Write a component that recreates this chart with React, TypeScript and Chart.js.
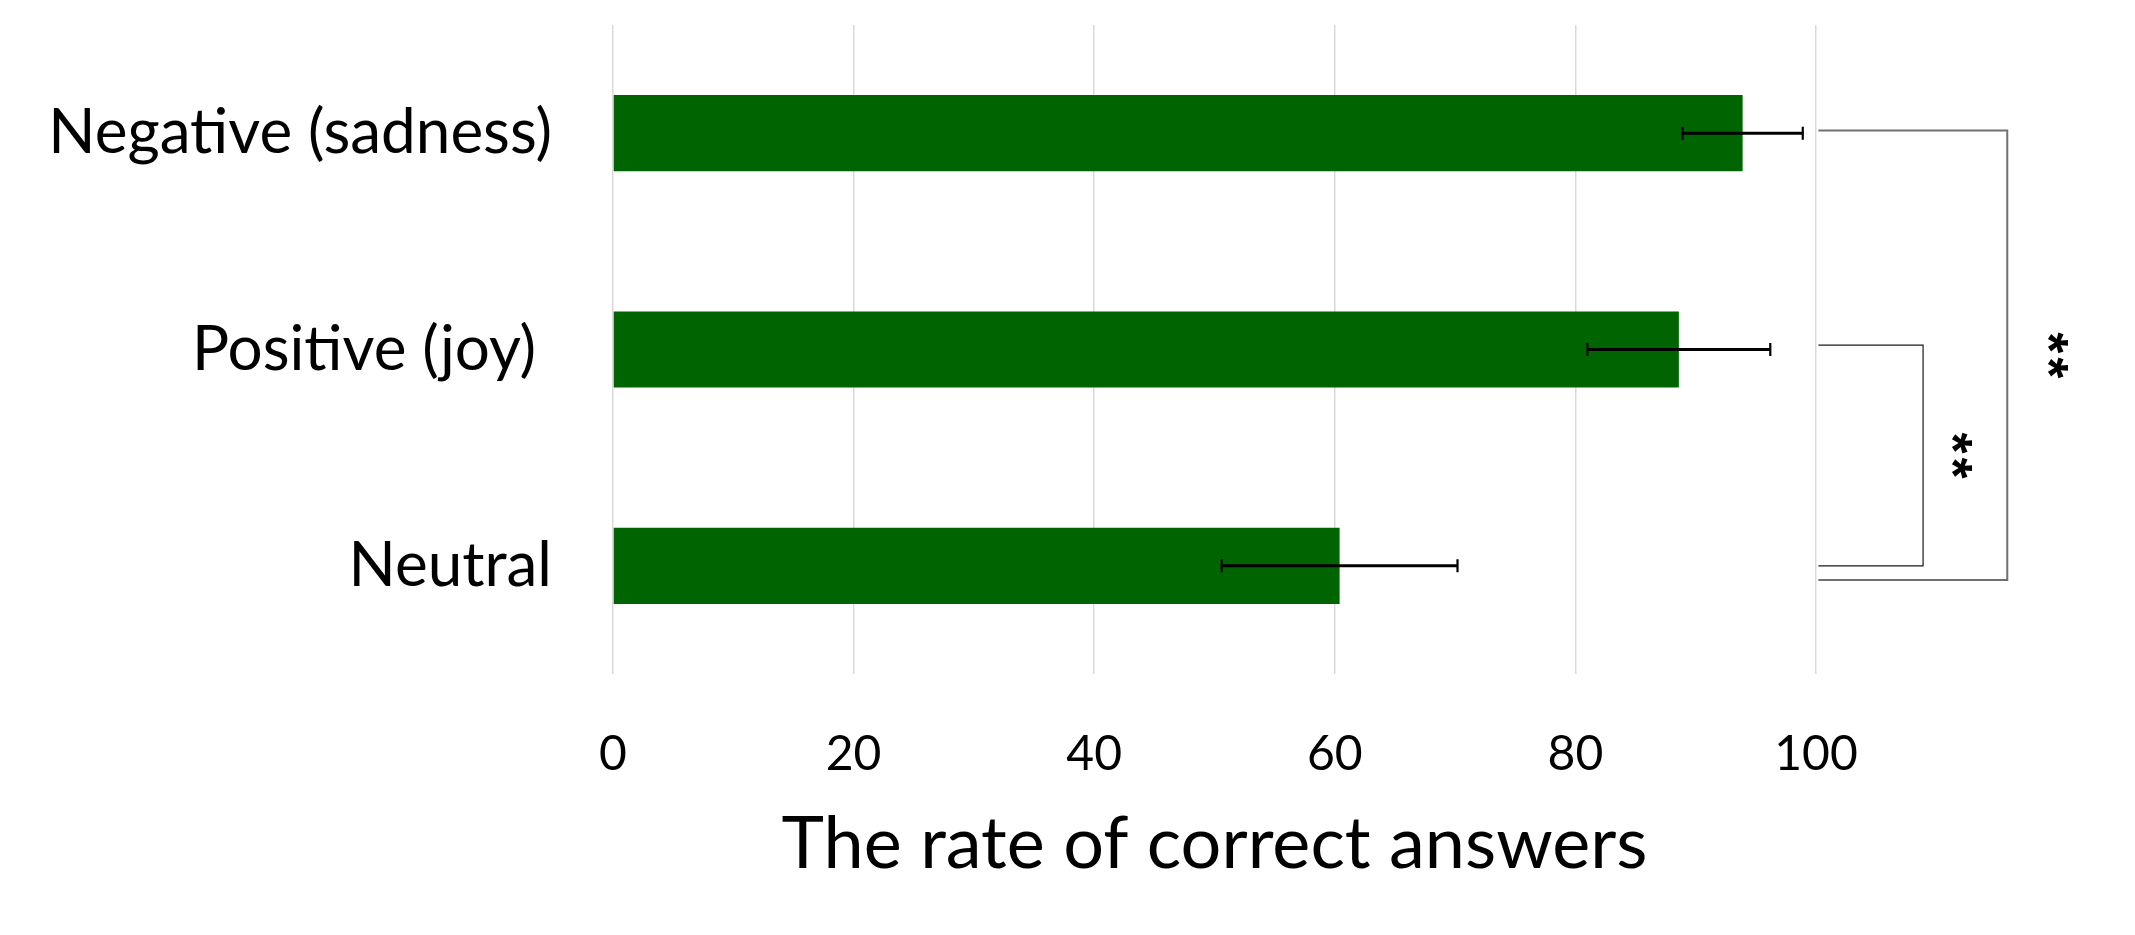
import React, { useEffect, useRef } from "react";
import { Chart, registerables } from "chart.js";

Chart.register(...registerables);

// Chart data
const categories = ["Negative (sadness)", "Positive (joy) ", "Neutral"];
const rates = [93.9, 88.6, 60.4];
const errors = [5.0, 7.6, 9.8];
const xTicks = [0, 20, 40, 60, 80, 100];

// significance brackets (category index for top/bottom, value axis for x)
const bracketTop = [-0.012, 0.98];
const bracketBottom = [2.065, 2.0];
const bracketLeft = [100.2, 100.2];
const bracketRight = [115.9, 108.9];
const bracketStarX = [120.1, 112.1];
const bracketLabels = ["**", "**"];

const annotationPlugin = {
  id: "errorBarsAndBrackets",
  afterDraw(chart: any) {
    const { ctx } = chart;
    const x = chart.scales.x;
    const y = chart.scales.y;
    ctx.save();

    // error bars
    ctx.strokeStyle = "#000000";
    rates.forEach((v, i) => {
      const cy = y.getPixelForValue(i);
      const x0 = x.getPixelForValue(v - errors[i]);
      const x1 = x.getPixelForValue(v + errors[i]);
      ctx.lineWidth = 3;
      ctx.beginPath();
      ctx.moveTo(x0, cy);
      ctx.lineTo(x1, cy);
      ctx.stroke();
      ctx.lineWidth = 2.2;
      ctx.beginPath();
      ctx.moveTo(x0, cy - 6.5);
      ctx.lineTo(x0, cy + 6.5);
      ctx.moveTo(x1, cy - 6.5);
      ctx.lineTo(x1, cy + 6.5);
      ctx.stroke();
    });

    // brackets
    bracketTop.forEach((top, i) => {
      const yTop = y.getPixelForValue(top);
      const yBot = y.getPixelForValue(bracketBottom[i]);
      const xl = x.getPixelForValue(bracketLeft[i]);
      const xr = x.getPixelForValue(bracketRight[i]);
      ctx.strokeStyle = i === 0 ? "#707070" : "#1a1a1a";
      ctx.lineWidth = i === 0 ? 2 : 1.2;
      ctx.beginPath();
      ctx.moveTo(xl, yTop);
      ctx.lineTo(xr, yTop);
      ctx.lineTo(xr, yBot);
      ctx.lineTo(xl, yBot);
      ctx.stroke();

      // rotated significance stars, each centred on its ink box
      const sx = x.getPixelForValue(bracketStarX[i]);
      const sy = (yTop + yBot) / 2;
      const chars = bracketLabels[i].split("");
      const step = 25;
      ctx.save();
      ctx.translate(sx, sy);
      ctx.rotate(Math.PI / 2);
      ctx.fillStyle = "#000000";
      ctx.font = "bold 54px 'Liberation Sans'";
      ctx.textAlign = "left";
      ctx.textBaseline = "alphabetic";
      chars.forEach((c, k) => {
        const m = ctx.measureText(c);
        const w = m.actualBoundingBoxLeft + m.actualBoundingBoxRight;
        const h = m.actualBoundingBoxAscent + m.actualBoundingBoxDescent;
        const cx = (k - (chars.length - 1) / 2) * step;
        ctx.fillText(
          c,
          cx - w / 2 + m.actualBoundingBoxLeft,
          h / 2 - m.actualBoundingBoxDescent
        );
      });
      ctx.restore();
    });

    ctx.restore();
  },
};

const App: React.FC = () => {
  const chartRef = useRef<HTMLCanvasElement>(null);

  useEffect(() => {
    const canvas = chartRef.current;
    if (!canvas) return;
    Chart.getChart(canvas)?.destroy();

    Chart.defaults.font.family = "Lato";
    Chart.defaults.color = "#000000";

    const chart = new Chart(canvas, {
      type: "bar",
      data: {
        labels: categories,
        datasets: [
          {
            label: "The rate of correct answers",
            data: rates,
            backgroundColor: "#006400",
            borderWidth: 0,
            barPercentage: 0.352,
            categoryPercentage: 1,
          },
        ],
      },
      options: {
        indexAxis: "y",
        responsive: false,
        animation: false,
        layout: {
          padding: { top: 25, right: 319, bottom: 0, left: 0 },
        },
        scales: {
          x: {
            min: 0,
            max: 100,
            afterBuildTicks: (axis: any) => {
              axis.ticks = xTicks.map((v) => ({ value: v }));
            },
            afterFit: (axis: any) => {
              axis.height = 261;
              axis.paddingLeft = 0;
              axis.paddingRight = 0;
            },
            grid: {
              color: "#d9d9d9",
              lineWidth: 1.5,
              drawTicks: false,
            },
            border: { display: false },
            ticks: {
              padding: 52,
              font: { size: 48 },
              color: "#000000",
            },
            title: {
              display: true,
              text: "The rate of correct answers",
              font: { size: 72 },
              color: "#000000",
              padding: { top: 0, bottom: 47 },
            },
          },
          y: {
            afterFit: (axis: any) => {
              axis.width = 613;
              axis.paddingTop = 0;
              axis.paddingBottom = 0;
            },
            grid: { display: false, drawTicks: false },
            border: { display: false },
            ticks: {
              padding: 61,
              font: { size: 62 },
              color: "#000000",
            },
          },
        },
        plugins: {
          legend: { display: false },
          tooltip: { enabled: false },
        },
      },
      plugins: [annotationPlugin],
    });

    return () => {
      chart.destroy();
    };
  }, []);

  return (
    <div
      style={{
        position: "absolute",
        left: 0,
        top: 0,
        width: 2135,
        height: 935,
        background: "#ffffff",
      }}
    >
      <canvas ref={chartRef} width={2135} height={935} style={{ display: "block" }} />
    </div>
  );
};

export default App;
